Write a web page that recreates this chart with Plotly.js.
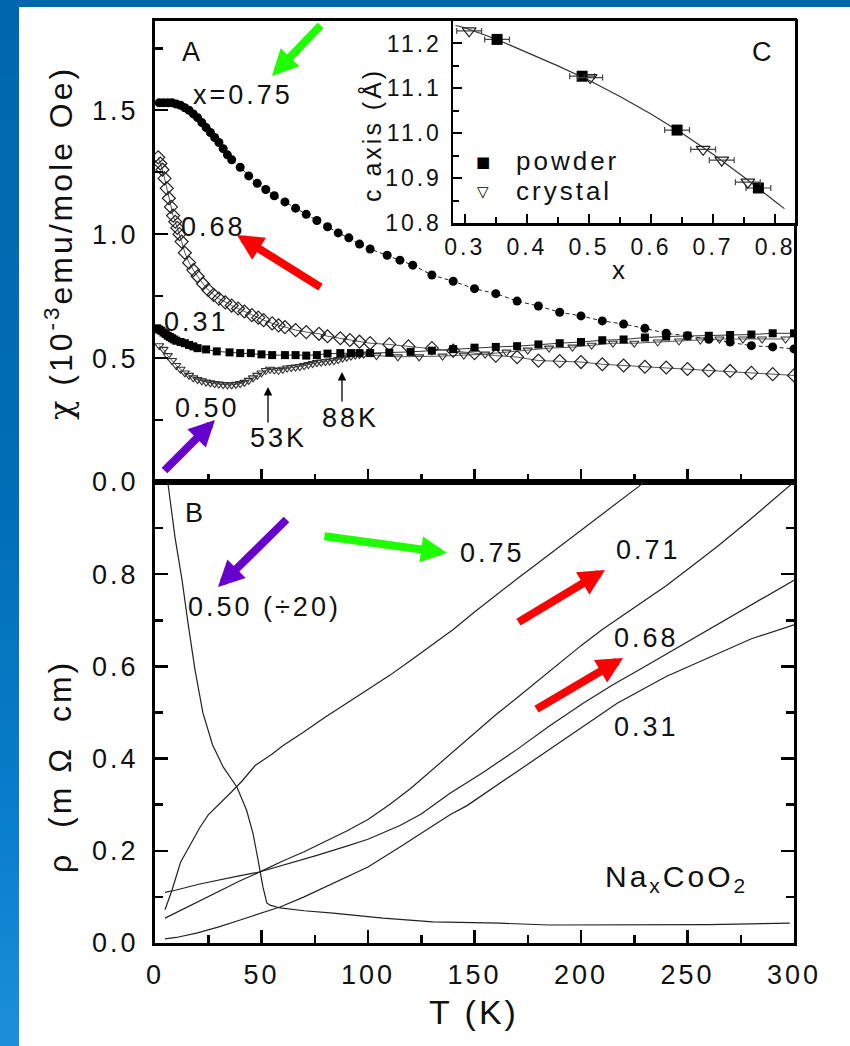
<!DOCTYPE html>
<html>
<head>
<meta charset="utf-8">
<script src="https://cdn.plot.ly/plotly-3.0.1.min.js"></script>
<style>
  html, body { margin:0; padding:0; width:850px; height:1046px; overflow:hidden; background:#ffffff; }
  #topband { position:absolute; left:0; top:0; width:850px; height:7px; background:#0067ad; }
  #leftband { position:absolute; left:0; top:0; width:19px; height:1046px;
    background: linear-gradient(to bottom, #0067ad 0%, #006db5 45%, #0a7fcc 80%, #1d8fda 100%); }
  #chart { position:absolute; left:0; top:0; width:850px; height:1046px; }
  svg text { letter-spacing: 3px; }
</style>
</head>
<body>
<div id="topband"></div>
<div id="leftband"></div>
<div id="chart"></div>
<script>
// ---------- Panel A: susceptibility chi (1e-3 emu/mole Oe) vs T (K) ----------
const T075 = [2,4,6,8,10,12,14,16,18,20,22,24,26,28,30,32,34,36,40,44,48,52,56,61,66,71,76,81,86,91,96,101,109,115,121,130,140,150,160,170,180,190,200,210,220,230,240,250,260,270,280,290,300];
const chi075 = [1.53,1.53,1.53,1.53,1.525,1.52,1.51,1.50,1.485,1.47,1.45,1.43,1.41,1.39,1.37,1.345,1.32,1.30,1.27,1.235,1.205,1.18,1.155,1.13,1.105,1.08,1.055,1.03,1.005,0.985,0.96,0.94,0.915,0.895,0.875,0.835,0.81,0.78,0.76,0.73,0.71,0.685,0.67,0.65,0.637,0.62,0.60,0.59,0.576,0.565,0.55,0.545,0.537];

const T068 = [1.5,2.5,3.5,4.5,5.5,6.5,7.5,8.5,9.5,10.5,11.5,12.5,14,16,18,20,22.5,25,27.5,30,33,36,39,42,45.5,48.5,51,55,58,61,66,71,77,81,87,91.5,96,101,110,119,130,140,150,160,170,180,190,200,210,220,230,240,250,260,270,280,290,300];
const chi068 = [1.31,1.285,1.26,1.225,1.185,1.145,1.11,1.075,1.05,1.025,1.0,0.97,0.925,0.885,0.855,0.83,0.80,0.775,0.755,0.74,0.725,0.712,0.7,0.688,0.673,0.663,0.653,0.64,0.632,0.625,0.613,0.605,0.598,0.588,0.58,0.573,0.566,0.56,0.555,0.547,0.54,0.53,0.52,0.51,0.504,0.49,0.488,0.484,0.475,0.47,0.465,0.462,0.456,0.45,0.448,0.44,0.435,0.43];

const T031 = [1,2,3,4,5,6,7,8,9,10,12,14,16,18,20,24,29,35,40,45,50,55,61,66,71,76,81,87,92,96,101,110,120,130,140,150,160,170,180,190,200,210,220,230,240,250,260,270,280,290,300];
const chi031 = [0.62,0.615,0.61,0.603,0.597,0.59,0.585,0.58,0.575,0.57,0.565,0.56,0.553,0.547,0.54,0.535,0.527,0.523,0.52,0.52,0.515,0.512,0.512,0.512,0.51,0.512,0.518,0.52,0.52,0.52,0.52,0.522,0.525,0.53,0.536,0.542,0.545,0.548,0.555,0.56,0.565,0.572,0.575,0.583,0.587,0.59,0.59,0.593,0.595,0.6,0.6];

const T050 = [2,4,6,8,10,12,14,16,18,20,22,24,26,28,30,32,34,36,38,40,42,44,46,48,50,52,54,56,58,60,62,64,66,68,70,72,74,76,78,80,82,84,86,88,90,92,94,96,98,104,114,124,135,145,155,165,175,185,196,205,215,225,236,246,256,265,276,285,296];
const chi050 = [0.55,0.535,0.51,0.49,0.47,0.455,0.44,0.43,0.42,0.413,0.408,0.403,0.40,0.397,0.395,0.393,0.392,0.392,0.394,0.397,0.402,0.41,0.42,0.43,0.44,0.45,0.455,0.452,0.45,0.455,0.46,0.462,0.464,0.466,0.47,0.474,0.478,0.482,0.484,0.486,0.488,0.49,0.494,0.50,0.504,0.508,0.512,0.514,0.516,0.51,0.505,0.505,0.508,0.512,0.516,0.524,0.532,0.54,0.544,0.552,0.56,0.56,0.565,0.569,0.573,0.577,0.577,0.577,0.577];

// ---------- Panel B: resistivity rho (mOhm cm) vs T (K) ----------
const Tb075 = [4.7,8,12,17,21,25,30,36,41,47,55,60,70,80,90,100,110,120,130,140,150,160,170,180,190,200,210,220,227,232];
const rho075 = [0.072,0.115,0.175,0.215,0.25,0.278,0.30,0.328,0.352,0.385,0.41,0.428,0.458,0.49,0.52,0.55,0.58,0.613,0.646,0.68,0.718,0.755,0.79,0.825,0.86,0.895,0.93,0.965,0.99,1.01];

const Tb071 = [4.7,10,20,30,40,50,60,70,80,90,100,110,120,130,140,150,160,170,180,190,200,210,220,232,240,250,264,279,290,300];
const rho071 = [0.054,0.066,0.09,0.113,0.135,0.156,0.178,0.198,0.22,0.243,0.268,0.3,0.335,0.375,0.415,0.455,0.495,0.532,0.57,0.608,0.645,0.68,0.712,0.75,0.775,0.81,0.86,0.917,0.96,1.0];

const Tb068 = [4.7,10,21,30,40,49,60,76,90,100,115,125,138.5,154,170,185,201,215,230,248,265,280,300];
const rho068 = [0.11,0.115,0.128,0.137,0.146,0.154,0.168,0.19,0.21,0.225,0.255,0.28,0.325,0.37,0.42,0.47,0.52,0.56,0.6,0.648,0.692,0.732,0.787];

const Tb031 = [4.7,10,20,30,40,50,58.7,70,83.6,100,115,130,138.5,146.5,162,170,185,200,217,240,264,280,300];
const rho031 = [0.009,0.012,0.022,0.035,0.05,0.065,0.078,0.1,0.13,0.165,0.208,0.252,0.278,0.298,0.347,0.372,0.419,0.468,0.52,0.578,0.628,0.66,0.69];

const Tb050 = [5,6,9.4,12.7,15.5,18.8,22.5,27,32,38.5,43,46,48.4,50.7,52.5,54,58.7,70,83.6,107,130.5,162,185,232,260,298];
const rho050 = [1.05,1.0,0.88,0.787,0.694,0.592,0.499,0.43,0.382,0.338,0.288,0.238,0.18,0.121,0.087,0.082,0.076,0.07,0.065,0.054,0.046,0.043,0.039,0.039,0.04,0.043];

// ---------- Inset C: c axis (Angstrom) vs x ----------
const powderX = [0.352,0.489,0.642,0.773];
const powderC = [11.209,11.127,11.007,10.878];
const powderErr = [0.02,0.02,0.02,0.02];
const crystalX = [0.307,0.502,0.684,0.714,0.756];
const crystalC = [11.228,11.124,10.964,10.94,10.891];
const crystalErr = [0.02,0.02,0.02,0.02,0.02];
const fitX = [0.285,0.30,0.35,0.40,0.45,0.50,0.55,0.60,0.65,0.70,0.75,0.80,0.815];
const fitC = [11.24,11.235,11.21,11.18,11.15,11.118,11.082,11.043,11.0,10.953,10.902,10.848,10.832];

// tick labels
const tickA_vals = [0,0.5,1.0,1.5];
const tickA_text = ['0.0','0.5','1.0','1.5'];
const tickB_vals = [0,0.2,0.4,0.6,0.8];
const tickB_text = ['0.0','0.2','0.4','0.6','0.8'];
const tickT_vals = [0,50,100,150,200,250,300];
const tickT_text = ['0','50','100','150','200','250','300'];
const tickC_xvals = [0.3,0.4,0.5,0.6,0.7,0.8];
const tickC_xtext = ['0.3','0.4','0.5','0.6','0.7','0.8'];
const tickC_yvals = [10.8,10.9,11.0,11.1,11.2];
const tickC_ytext = ['10.8','10.9','11.0','11.1','11.2'];

// ---------- layout helpers ----------
const W = 850, H = 1046;
const PX = v => v / W;
const PY = v => 1 - v / H;
const FONT = 'Liberation Sans, Arial, Helvetica, sans-serif';
const INK = '#111111';

const traces = [
  {x:T050, y:chi050, xaxis:'x', yaxis:'y', mode:'lines+markers', showlegend:false,
   line:{color:'#555', width:1}, marker:{symbol:'triangle-down-open', size:8, color:'#333', line:{width:1.1}}},
  {x:T068, y:chi068, xaxis:'x', yaxis:'y', mode:'lines+markers', showlegend:false,
   line:{color:'#555', width:1}, marker:{symbol:'diamond-open', size:10, color:'#222', line:{width:1.2}}},
  {x:T031, y:chi031, xaxis:'x', yaxis:'y', mode:'lines+markers', showlegend:false,
   line:{color:'#333', width:1}, marker:{symbol:'square', size:8, color:'#000'}},
  {x:T075, y:chi075, xaxis:'x', yaxis:'y', mode:'lines+markers', showlegend:false,
   line:{color:'#222', width:1, dash:'4px,3px'}, marker:{symbol:'circle', size:9, color:'#000'}},

  {x:Tb075, y:rho075, xaxis:'x2', yaxis:'y2', mode:'lines', showlegend:false, line:{color:'#222', width:1.2}},
  {x:Tb071, y:rho071, xaxis:'x2', yaxis:'y2', mode:'lines', showlegend:false, line:{color:'#222', width:1.2}},
  {x:Tb068, y:rho068, xaxis:'x2', yaxis:'y2', mode:'lines', showlegend:false, line:{color:'#222', width:1.2}},
  {x:Tb031, y:rho031, xaxis:'x2', yaxis:'y2', mode:'lines', showlegend:false, line:{color:'#222', width:1.2}},
  {x:Tb050, y:rho050, xaxis:'x2', yaxis:'y2', mode:'lines', showlegend:false, line:{color:'#222', width:1.2}},

  {x:fitX, y:fitC, xaxis:'x3', yaxis:'y3', mode:'lines', showlegend:false, line:{color:'#333', width:1.2}},
  {x:powderX, y:powderC, xaxis:'x3', yaxis:'y3', mode:'markers', name:'powder', showlegend:false,
   marker:{symbol:'square', size:11, color:'#000'},
   error_x:{type:'data', array:powderErr, color:'#444', thickness:1.2, width:3}},
  {x:crystalX, y:crystalC, xaxis:'x3', yaxis:'y3', mode:'markers', name:'crystal', showlegend:false,
   marker:{symbol:'triangle-down-open', size:12, color:'#222', line:{width:1.2}},
   error_x:{type:'data', array:crystalErr, color:'#444', thickness:1.2, width:3}}
];

const axBase = {showline:true, linecolor:'#000', linewidth:3, ticks:'inside', tickcolor:'#000',
  tickwidth:2.5, ticklen:13, showgrid:false, zeroline:false, fixedrange:true,
  tickfont:{family:FONT, size:27, color:INK}, tickmode:'array'};

const mainDomX = [PX(155), PX(794)];

const layout = {
  width:W, height:H, margin:{l:0, r:0, t:0, b:0},
  paper_bgcolor:'rgba(0,0,0,0)', plot_bgcolor:'#ffffff',
  hovermode:false, showlegend:false,
  font:{family:FONT, color:INK},
  xaxis: Object.assign({}, axBase, {domain:mainDomX, anchor:'y', range:[0,300], mirror:true,
    tickvals:tickT_vals, ticktext:tickT_text, showticklabels:false,
    minor:{tickvals:[25,75,125,175,225,275], ticks:'inside', ticklen:8, tickwidth:2.5, tickcolor:'#000'}}),
  yaxis: Object.assign({}, axBase, {domain:[PY(482), PY(21)], anchor:'x', range:[0,1.86], mirror:true,
    tickvals:tickA_vals, ticktext:tickA_text, ticklabelstandoff:8,
    minor:{tickvals:[0.25,0.75,1.25,1.75], ticks:'inside', ticklen:8, tickwidth:2.5, tickcolor:'#000'}}),
  xaxis2: Object.assign({}, axBase, {domain:mainDomX, anchor:'y2', range:[0,300], mirror:true,
    tickvals:tickT_vals, ticktext:tickT_text, ticklabelstandoff:6,
    minor:{tickvals:[25,75,125,175,225,275], ticks:'inside', ticklen:8, tickwidth:2.5, tickcolor:'#000'}}),
  yaxis2: Object.assign({}, axBase, {domain:[PY(943), PY(482)], anchor:'x2', range:[0,1.0], mirror:'ticks',
    tickvals:tickB_vals, ticktext:tickB_text, ticklabelstandoff:8,
    minor:{tickvals:[0.1,0.3,0.5,0.7,0.9], ticks:'inside', ticklen:8, tickwidth:2.5, tickcolor:'#000'}}),
  xaxis3: Object.assign({}, axBase, {domain:[PX(453), PX(795)], anchor:'y3', range:[0.281,0.832], mirror:true,
    linewidth:2.5, ticklen:9, tickwidth:2, tickvals:tickC_xvals, ticktext:tickC_xtext,
    tickfont:{family:FONT, size:23, color:INK}, ticklabelstandoff:2,
    minor:{tickvals:[0.35,0.45,0.55,0.65,0.75], ticks:'inside', ticklen:6, tickwidth:2, tickcolor:'#000'}}),
  yaxis3: Object.assign({}, axBase, {domain:[PY(223), PY(21)], anchor:'x3', range:[10.8,11.25], mirror:true,
    linewidth:2.5, ticklen:9, tickwidth:2, tickvals:tickC_yvals, ticktext:tickC_ytext,
    tickfont:{family:FONT, size:23, color:INK}, ticklabelstandoff:4,
    minor:{tickvals:[10.85,10.95,11.05,11.15], ticks:'inside', ticklen:6, tickwidth:2, tickcolor:'#000'}}),
  annotations:[]
};

function label(text, x, y, size, extra) {
  return Object.assign({text:text, x:PX(x), y:PY(y), xref:'paper', yref:'paper', showarrow:false,
    xanchor:'center', yanchor:'middle', font:{family:FONT, size:size, color:INK}}, extra || {});
}
function arrow(tipX, tipY, tailX, tailY, color, width, size) {
  return {text:'', x:PX(tipX), y:PY(tipY), xref:'paper', yref:'paper', showarrow:true,
    ax:tailX - tipX, ay:tailY - tipY, axref:'pixel', ayref:'pixel',
    arrowhead:2, arrowsize:size, arrowwidth:width, arrowcolor:color, standoff:0, startstandoff:0};
}

const GREEN = '#1eff00', RED = '#ff0000', PURPLE = '#6600cc';
const SYMFONT = {family:'DejaVu Sans', size:15, color:'#000'};

layout.annotations.push(
  label('A', 192, 52, 27),
  label('x=0.75', 243, 95, 27),
  label('0.68', 213, 227, 27),
  label('0.31', 196, 322, 27),
  label('0.50', 207, 408, 27),
  label('53K', 278, 438, 27),
  label('88K', 350, 418, 27),
  label('B', 195, 513, 27),
  label('0.50 (÷20)', 264, 607, 27),
  label('0.75', 492, 553, 27),
  label('0.71', 648, 550, 27),
  label('0.68', 646, 638, 27),
  label('0.31', 646, 727, 27),
  label('Na<sub>x</sub>CoO<sub>2</sub>', 676, 878, 30),
  label('C', 763, 52, 27),
  label('x', 620, 270, 26),
  label('■', 484, 162, 15, {font:SYMFONT}),
  label('▽', 484, 192, 15, {font:SYMFONT}),
  label('powder', 514, 161, 26, {xanchor:'left'}),
  label('crystal', 514, 191, 26, {xanchor:'left'}),
  label('c axis (Å)', 372, 135, 25, {textangle:-90}),
  label('<span style="font-family:DejaVu Serif">χ</span> (10<sup>-3</sup>emu/mole Oe)', 60, 243, 32, {textangle:-90}),
  label('ρ  (m Ω  cm)', 60, 767, 32, {textangle:-90}),
  label('T (K)', 474, 1012, 34),
  arrow(272, 76, 322, 24, GREEN, 8, 0.65),
  arrow(237, 235, 322, 288, RED, 8, 0.65),
  arrow(215, 420, 163, 472, PURPLE, 8, 0.65),
  arrow(268, 387, 268, 424, '#000', 1.3, 1.3),
  arrow(342, 372, 342, 403, '#000', 1.3, 1.3),
  arrow(218, 587, 288, 518, PURPLE, 8, 0.65),
  arrow(447, 553, 323, 536, GREEN, 8, 0.65),
  arrow(605, 570, 517, 623, RED, 8, 0.65),
  arrow(623, 658, 535, 710, RED, 8, 0.65)
);

Plotly.newPlot('chart', traces, layout, {displayModeBar:false, staticPlot:true});
</script>
</body>
</html>
